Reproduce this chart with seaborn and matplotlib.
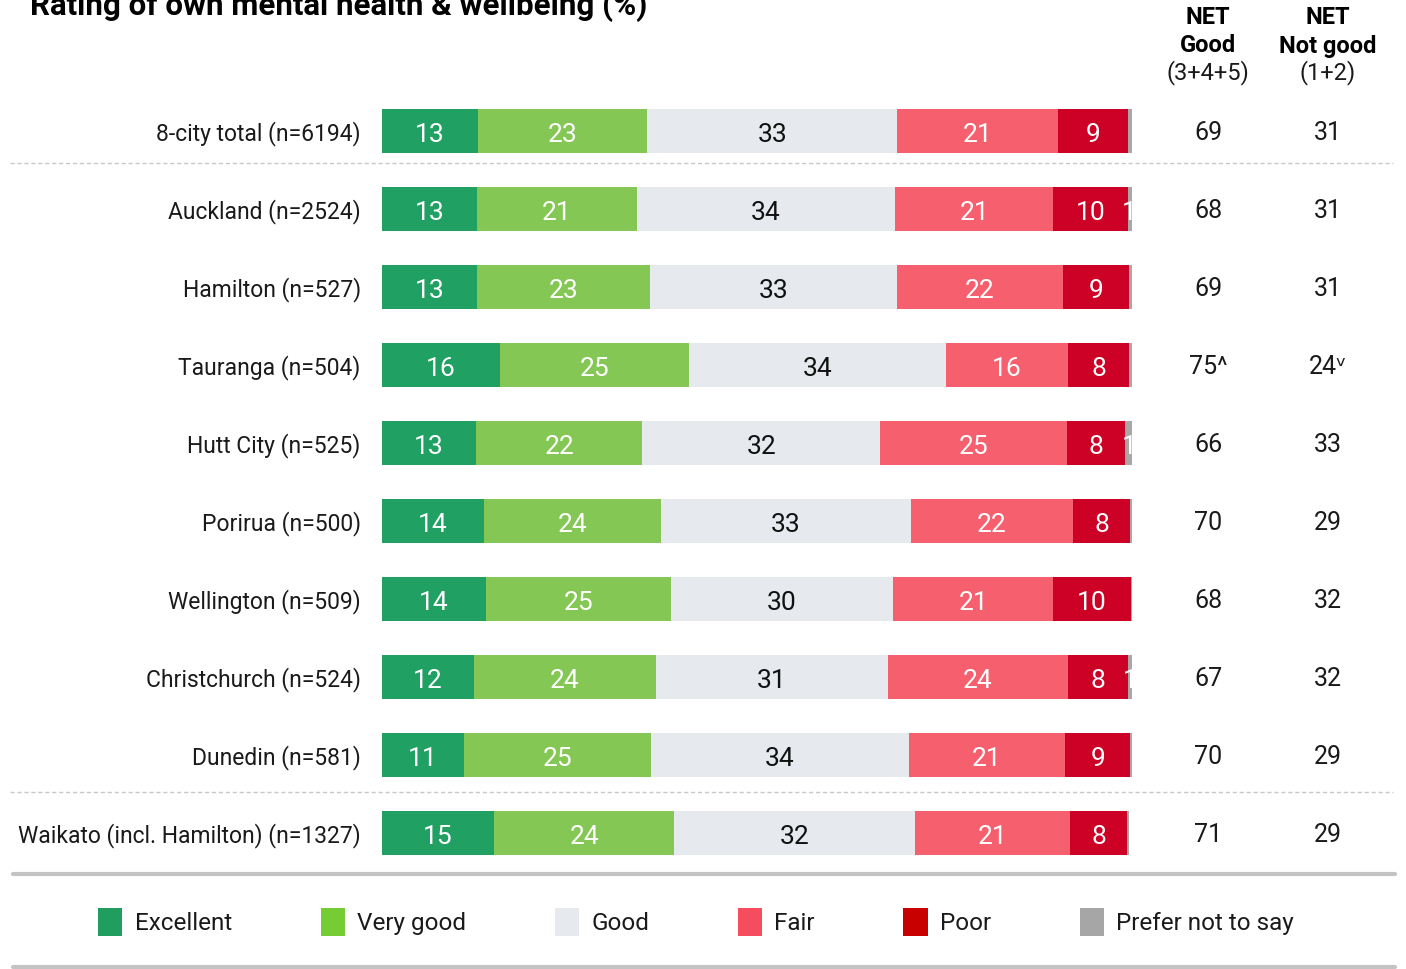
import matplotlib
matplotlib.use("Agg")
import matplotlib.pyplot as plt
import matplotlib.transforms as mtransforms
from matplotlib.lines import Line2D
from matplotlib.patches import Patch
import seaborn as sns
import numpy as np
import pandas as pd

# ---------------- data ----------------
cities = [
    "8-city total (n=6194)",
    "Auckland (n=2524)",
    "Hamilton (n=527)",
    "Tauranga (n=504)",
    "Hutt City (n=525)",
    "Porirua (n=500)",
    "Wellington (n=509)",
    "Christchurch (n=524)",
    "Dunedin (n=581)",
    "Waikato (incl. Hamilton) (n=1327)",
]
categories = ["Excellent", "Very good", "Good", "Fair", "Poor", "Prefer not to say"]

excellent = [12.8, 12.7, 12.7, 15.8, 12.6, 13.6, 13.9, 12.3, 11.0, 15.0]
very_good = [22.6, 21.3, 23.0, 25.1, 22.1, 23.6, 24.6, 24.2, 24.9, 24.0]
good = [33.3, 34.4, 32.9, 34.3, 31.7, 33.3, 29.6, 30.9, 34.3, 32.1]
fair = [21.4, 21.1, 22.2, 16.2, 24.9, 21.6, 21.4, 24.1, 20.9, 20.6]
poor = [9.3, 9.9, 8.8, 8.2, 7.7, 7.6, 10.3, 7.9, 8.6, 7.6]
prefer_not = [0.5, 0.5, 0.3, 0.4, 1.1, 0.4, 0.2, 0.6, 0.4, 0.3]
prefer_not_labels = ["", "1", "", "", "1", "", "", "1", "", ""]

net_good = ["69", "68", "69", "75^", "66", "70", "68", "67", "70", "71"]
net_not_good = ["31", "31", "31", "24\u1d5b", "33", "29", "32", "32", "29", "29"]

# ---------------- style ----------------
bar_colors = ["#20a062", "#84c754", "#e6e9ee", "#f6606e", "#cd0026", "#a8a8a8"]
legend_colors = ["#1f9e5f", "#76cc33", "#e6e9ee", "#f64d5e", "#c80000", "#a6a6a6"]
label_colors = ["white", "white", "#111111", "white", "white", "white"]
TXT = "#1a1a1a"

sns.set_theme(style="white")
plt.rcParams["font.family"] = ["Roboto", "DejaVu Sans"]

W, H = 1406, 969
fig = plt.figure(figsize=(W / 100, H / 100), dpi=100)
fig.patch.set_facecolor("white")

ax = fig.add_axes([381.7 / W, 1 - 872 / H, 750.6 / W, 780 / H])

series = [excellent, very_good, good, fair, poor, prefer_not]
cum = np.cumsum(np.array(series), axis=0)

# stacked bars: draw cumulative totals from the longest to the shortest
for i in reversed(range(len(series))):
    df = pd.DataFrame({"city": cities, "value": cum[i]})
    sns.barplot(data=df, x="value", y="city", order=cities, orient="h",
                color=bar_colors[i], saturation=1, width=0.565,
                errorbar=None, linewidth=0, ax=ax)

# segment labels
for i in range(5):
    for j in range(len(cities)):
        v = series[i][j]
        xc = cum[i][j] - v / 2
        ax.text(xc, j + 0.14, f"{v:.0f}", ha="center", va="baseline",
                color=label_colors[i], fontsize=19)
for j in range(len(cities)):
    if prefer_not_labels[j]:
        xc = cum[5][j] - prefer_not[j] / 2
        ax.text(xc, j + 0.14, prefer_not_labels[j], ha="center", va="baseline",
                color="white", fontsize=19, clip_on=True)

ax.set_xlim(0, 100)
ax.set_ylim(9.5, -0.5)
ax.set_xlabel("")
ax.set_ylabel("")
ax.set_xticks([])
ax.tick_params(axis="y", length=0, pad=15, labelsize=16.5, labelcolor=TXT)
sns.despine(ax=ax, left=True, bottom=True)

# NET columns
blend = mtransforms.blended_transform_factory(fig.transFigure, ax.transData)
for j in range(len(cities)):
    ax.text(1208 / W, j + 0.12, net_good[j], transform=blend, ha="center", va="baseline",
            fontsize=18, color=TXT)
    ax.text(1328 / W, j + 0.12, net_not_good[j], transform=blend, ha="center", va="baseline",
            fontsize=18, color=TXT)

# column headers
for xc, l1, l2, l3 in [(1208, "NET", "Good", "(3+4+5)"), (1328, "NET", "Not good", "(1+2)")]:
    fig.text(xc / W, 1 - 17 / H, l1, ha="center", va="center", fontsize=17,
             fontweight="bold", color="black")
    fig.text(xc / W, 1 - 46 / H, l2, ha="center", va="center", fontsize=17,
             fontweight="bold", color="black")
    fig.text(xc / W, 1 - 73 / H, l3, ha="center", va="center", fontsize=17,
             color=TXT)

# title (partly cut off at the top, as in the reference)
fig.text(30 / W, 1 - 15 / H, "Rating of own mental health & wellbeing (%)",
         ha="left", va="baseline", fontsize=22.5, fontweight="bold", color="black")

# separators
for yp in [163, 792]:
    fig.add_artist(Line2D([10 / W, 1393 / W], [1 - yp / H] * 2, transform=fig.transFigure,
                          color="#c8c8c8", lw=1, ls=(0, (3, 2))))
for yp in [874, 967]:
    fig.add_artist(Line2D([13 / W, 1395 / W], [1 - yp / H] * 2, transform=fig.transFigure,
                          color="#c3c3c3", lw=3))

# legend
handles = [Patch(facecolor=c, edgecolor="none", label=l) for c, l in zip(legend_colors, categories)]
leg = fig.legend(handles=handles, loc="center", bbox_to_anchor=(696 / W, 1 - 922 / H),
                 ncol=6, frameon=False, fontsize=17.5, handlelength=1.0, handleheight=1.45,
                 handletextpad=0.5, columnspacing=3.65)
for t in leg.get_texts():
    t.set_color(TXT)

fig.savefig("out.png", dpi=100)
